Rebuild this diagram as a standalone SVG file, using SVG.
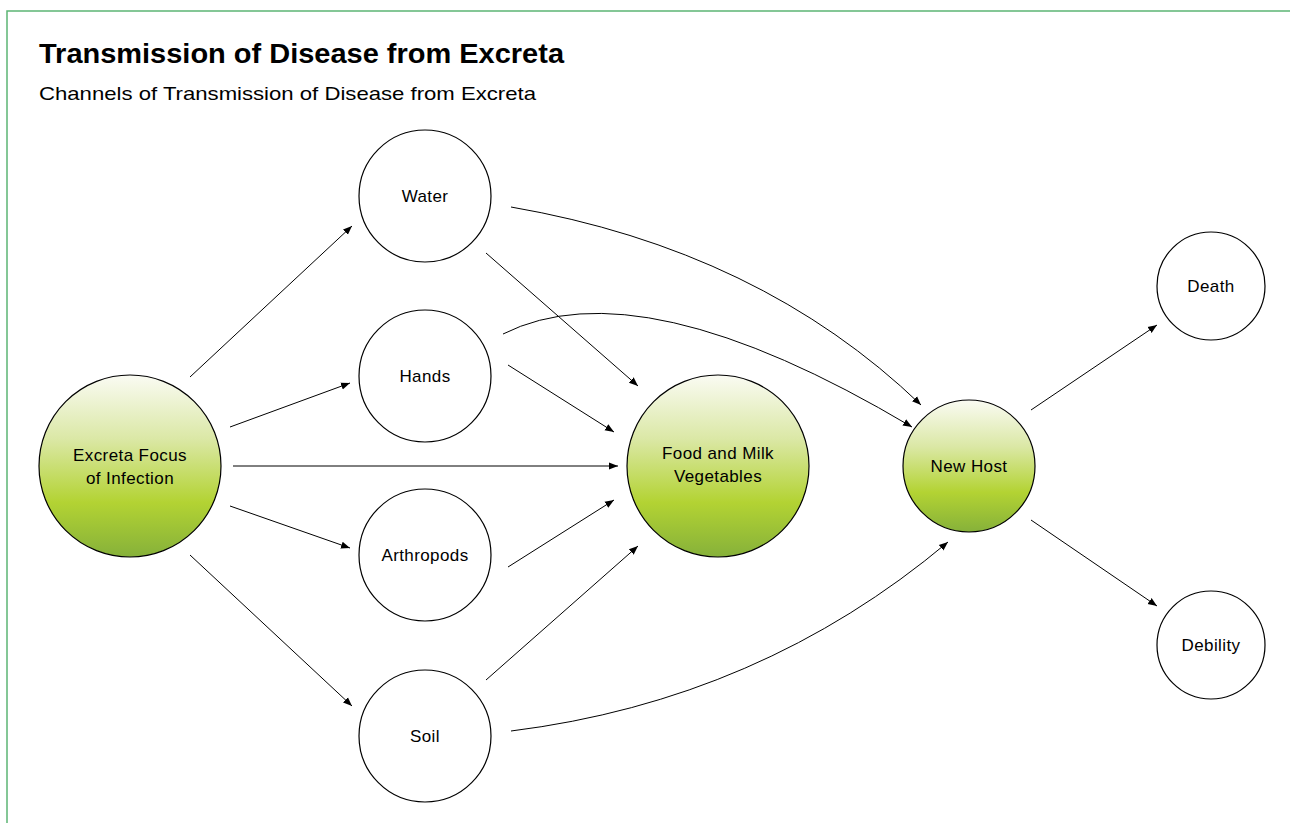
<svg xmlns="http://www.w3.org/2000/svg" width="1290" height="823" viewBox="0 0 1290 823">
<defs>
<linearGradient id="g" x1="0" y1="0" x2="0" y2="1">
<stop offset="0" stop-color="#fafbf3"/>
<stop offset="0.35" stop-color="#dbe8a6"/>
<stop offset="0.7" stop-color="#b3d333"/>
<stop offset="1" stop-color="#86b13a"/>
</linearGradient>
<marker id="a" viewBox="0 0 10 10" refX="10" refY="5" markerWidth="9" markerHeight="9" markerUnits="userSpaceOnUse" orient="auto">
<path d="M0,1 L10,5 L0,9 z" fill="#000"/>
</marker>
<style>
.n{fill:#fff;stroke:#000;stroke-width:1.2}
.gr{fill:url(#g);stroke:#000;stroke-width:1.2}
.t{font-family:"Liberation Sans",Arial,sans-serif;font-size:17px;letter-spacing:0.4px;fill:#000;text-anchor:middle}
.c{fill:none;stroke:#000;stroke-width:1;marker-end:url(#a)}
</style>
</defs>
<rect width="1290" height="823" fill="#fff"/>
<path d="M7,823 L7,11 L1290,11" fill="none" stroke="#5cb574" stroke-width="1.5"/>
<text x="39" y="63" font-family="Liberation Sans,Arial,sans-serif" font-weight="bold" font-size="28" textLength="525" lengthAdjust="spacingAndGlyphs">Transmission of Disease from Excreta</text>
<text x="39" y="100" font-family="Liberation Sans,Arial,sans-serif" font-size="19" textLength="497" lengthAdjust="spacingAndGlyphs">Channels of Transmission of Disease from Excreta</text>
<g id="connectors">
<path class="c" d="M190,377 L352,226"/>
<path class="c" d="M230,427 L350,383"/>
<path class="c" d="M233,466 L618,466"/>
<path class="c" d="M230,506 L350,548"/>
<path class="c" d="M190,555 L352,706"/>
<path class="c" d="M486,253 L638,386"/>
<path class="c" d="M508,365 L614,432"/>
<path class="c" d="M508,567 L614,500"/>
<path class="c" d="M486,680 L638,546"/>
<path class="c" d="M511,207 Q760,250 921,405"/>
<path class="c" d="M503,334 Q640,265 912,427"/>
<path class="c" d="M511,731 Q760,700 948,542"/>
<path class="c" d="M1031,410 L1157,325"/>
<path class="c" d="M1031,520 L1157,606"/>
</g>
<g id="excreta"><circle class="gr" cx="130" cy="466" r="91"/><text class="t" x="130" y="461">Excreta Focus</text><text class="t" x="130" y="484">of Infection</text></g>
<g id="water"><circle class="n" cx="425" cy="196" r="66"/><text class="t" x="425" y="202">Water</text></g>
<g id="hands"><circle class="n" cx="425" cy="376" r="66"/><text class="t" x="425" y="382">Hands</text></g>
<g id="arthropods"><circle class="n" cx="425" cy="555" r="66"/><text class="t" x="425" y="561">Arthropods</text></g>
<g id="soil"><circle class="n" cx="425" cy="736" r="66"/><text class="t" x="425" y="742">Soil</text></g>
<g id="food"><circle class="gr" cx="718" cy="466" r="91"/><text class="t" x="718" y="459">Food and Milk</text><text class="t" x="718" y="482">Vegetables</text></g>
<g id="newhost"><circle class="gr" cx="969" cy="466" r="66"/><text class="t" x="969" y="472">New Host</text></g>
<g id="death"><circle class="n" cx="1211" cy="286" r="54"/><text class="t" x="1211" y="292">Death</text></g>
<g id="debility"><circle class="n" cx="1211" cy="645" r="54"/><text class="t" x="1211" y="651">Debility</text></g>
</svg>
